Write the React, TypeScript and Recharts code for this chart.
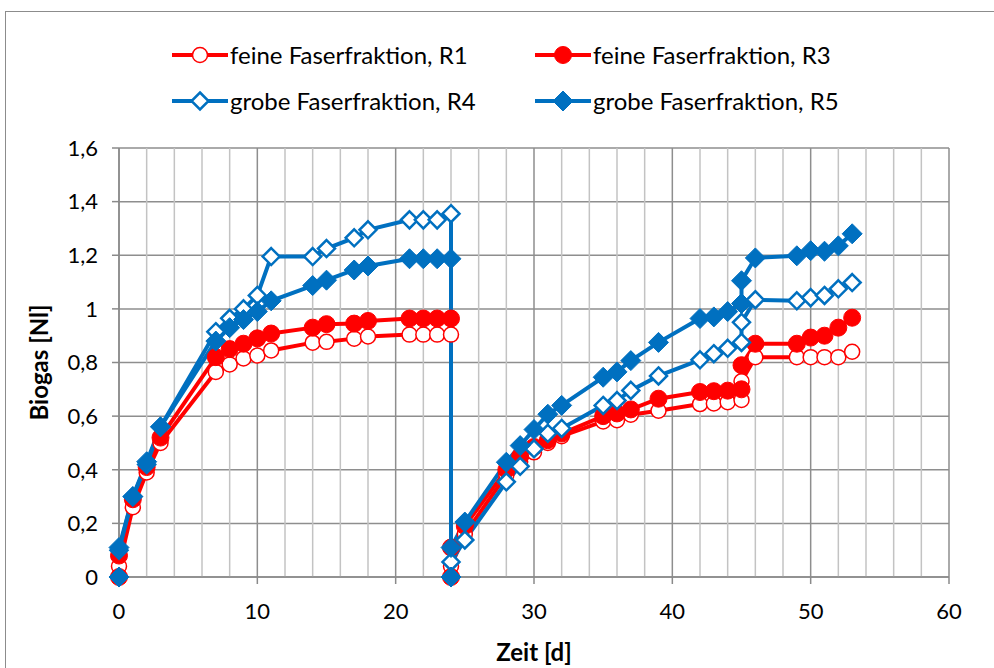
import React from 'react';
import { LineChart, Line, XAxis, YAxis, CartesianGrid, Label, ReferenceLine } from 'recharts';

// Sampling days (two feeding runs, reset at day 24)
const days = [
  0, 0, 1, 2, 3, 7, 8, 9, 10, 11, 14, 15, 17, 18, 21, 22, 23, 24,
  24, 24, 25, 28, 29, 30, 31, 32, 35, 36, 37, 39, 42, 43, 44, 45, 45, 46, 49, 50, 51, 52, 53,
];

// Cumulative biogas [Nl]
const gasR1 = [
  0, 0.04, 0.26, 0.39, 0.5, 0.765, 0.793, 0.815, 0.826, 0.845, 0.874, 0.877, 0.889, 0.897, 0.904, 0.904, 0.904, 0.904,
  0, 0.04, 0.16, 0.38, 0.43, 0.465, 0.5, 0.525, 0.58, 0.585, 0.605, 0.62, 0.645, 0.647, 0.652, 0.66, 0.73, 0.82, 0.82, 0.82, 0.82, 0.82, 0.84,
];
const gasR3 = [
  0, 0.08, 0.29, 0.41, 0.52, 0.82, 0.85, 0.87, 0.89, 0.908, 0.93, 0.943, 0.945, 0.955, 0.964, 0.964, 0.964, 0.964,
  0, 0.11, 0.19, 0.4, 0.45, 0.485, 0.51, 0.535, 0.6, 0.61, 0.625, 0.665, 0.69, 0.693, 0.695, 0.7, 0.79, 0.87, 0.87, 0.893, 0.9, 0.93, 0.967,
];
const gasR4 = [
  0, 0.1, 0.3, 0.42, 0.56, 0.915, 0.965, 1.0, 1.05, 1.195, 1.195, 1.225, 1.265, 1.295, 1.332, 1.332, 1.332, 1.355,
  0, 0.056, 0.138, 0.355, 0.413, 0.478, 0.536, 0.554, 0.64, 0.658, 0.696, 0.75, 0.81, 0.833, 0.853, 0.875, 0.95, 1.034, 1.03, 1.042, 1.05, 1.075, 1.098,
];
const gasR5 = [
  0, 0.11, 0.3, 0.43, 0.56, 0.88, 0.93, 0.96, 0.99, 1.03, 1.087, 1.107, 1.145, 1.16, 1.187, 1.187, 1.187, 1.187,
  0, 0.11, 0.205, 0.428, 0.49, 0.55, 0.607, 0.64, 0.745, 0.765, 0.807, 0.875, 0.964, 0.97, 0.99, 1.02, 1.105, 1.19, 1.198, 1.217, 1.215, 1.235, 1.28,
];

const xTicks = [0, 10, 20, 30, 40, 50, 60];
const xMinorTicks = [2, 4, 6, 8, 12, 14, 16, 18, 22, 24, 26, 28, 32, 34, 36, 38, 42, 44, 46, 48, 52, 54, 56, 58];
const yTicks = [0, 0.2, 0.4, 0.6, 0.8, 1, 1.2, 1.4, 1.6];

const RED = '#FF0000';
const BLUE = '#0070C0';
const FONT = "Lato, Roboto, sans-serif";

type Shape = 'circle' | 'diamond';

const series: { name: string; values: number[]; color: string; shape: Shape; open: boolean }[] = [
  { name: 'feine Faserfraktion, R1', values: gasR1, color: RED, shape: 'circle', open: true },
  { name: 'feine Faserfraktion, R3', values: gasR3, color: RED, shape: 'circle', open: false },
  { name: 'grobe Faserfraktion, R4', values: gasR4, color: BLUE, shape: 'diamond', open: true },
  { name: 'grobe Faserfraktion, R5', values: gasR5, color: BLUE, shape: 'diamond', open: false },
];

const toRows = (values: number[]) => days.map((d, i) => ({ day: d, gas: values[i] }));

const Marker = ({ cx, cy, shape, open, color }: { cx: number; cy: number; shape: Shape; open: boolean; color: string }) => {
  if (shape === 'circle') {
    return (
      <circle cx={cx} cy={cy} r={open ? 7.5 : 8.5} fill={open ? '#fff' : color} stroke={color} strokeWidth={open ? 1.5 : 1} />
    );
  }
  const h = open ? 8.5 : 10;
  return (
    <polygon
      points={`${cx},${cy - h} ${cx + h},${cy} ${cx},${cy + h} ${cx - h},${cy}`}
      fill={open ? '#fff' : color}
      stroke={color}
      strokeWidth={open ? 2.5 : 1}
    />
  );
};

const makeDot = (shape: Shape, open: boolean, color: string) => (props: any) => {
  const { cx, cy, index } = props;
  if (cx == null || cy == null) return <g key={index} />;
  return (
    <g key={index}>
      <Marker cx={cx} cy={cy} shape={shape} open={open} color={color} />
    </g>
  );
};

// legend: 2 x 2 grid above the plot
const LegendBlock = () => {
  const cols = [172, 535];
  const rows = [55, 101];
  return (
    <svg width={994} height={130} style={{ position: 'absolute', left: 0, top: 0 }}>
      {series.map((s, i) => {
        const x = cols[i % 2];
        const y = rows[Math.floor(i / 2)];
        return (
          <g key={s.name}>
            <line x1={x} y1={y} x2={x + 56} y2={y} stroke={s.color} strokeWidth={4} />
            <Marker cx={x + 28} cy={y} shape={s.shape} open={s.open} color={s.color} />
            <text x={x + 58} y={y} dy="0.36em" fontFamily={FONT} fontSize={24} fill="#000">
              {s.name}
            </text>
          </g>
        );
      })}
    </svg>
  );
};

const fmt = (v: number) => String(v).replace('.', ',');

export default function App() {
  return (
    <div style={{ position: 'absolute', left: 0, top: 0, width: 994, height: 668, overflow: 'hidden', background: '#fff' }}>
      <div
        style={{
          position: 'absolute',
          left: 5,
          top: 11,
          width: 1100,
          height: 800,
          border: '1.5px solid #8C8C8C',
        }}
      />
      <LineChart
        width={994}
        height={668}
        margin={{ top: 148, right: 45, bottom: 0, left: 0 }}
        style={{ position: 'absolute', left: 0, top: 0 }}
      >
        {/* light minor verticals every 2 days */}
        {xMinorTicks.map((t) => (
          <ReferenceLine key={`minor-${t}`} x={t} stroke="#C3C3C3" strokeWidth={1.5} />
        ))}
        <CartesianGrid stroke="#8E8E8E" strokeWidth={1.5} />
        <XAxis
          type="number"
          dataKey="day"
          domain={[0, 60]}
          ticks={xTicks}
          height={91}
          tickSize={7}
          tickMargin={19}
          stroke="#8A8A8A"
          strokeWidth={1.5}
          tick={{ fill: '#000', fontSize: 22, fontFamily: FONT }}
          allowDuplicatedCategory
        >
          <Label value="Zeit [d]" position="insideBottom" offset={7} fill="#000" fontSize={24} fontWeight="bold" fontFamily={FONT} />
        </XAxis>
        <YAxis
          type="number"
          domain={[0, 1.6]}
          ticks={yTicks}
          width={119}
          tickSize={7}
          tickMargin={14}
          tickFormatter={fmt}
          stroke="#8A8A8A"
          strokeWidth={1.5}
          tick={{ fill: '#000', fontSize: 22, fontFamily: FONT }}
        >
          <Label value="Biogas [Nl]" angle={-90} position="center" dx={-20} fill="#000" fontSize={24} fontWeight="bold" fontFamily={FONT} />
        </YAxis>
        {series.map((s) => (
          <Line
            key={s.name}
            data={toRows(s.values)}
            dataKey="gas"
            name={s.name}
            type="linear"
            stroke={s.color}
            strokeWidth={4}
            dot={makeDot(s.shape, s.open, s.color)}
            activeDot={false}
            isAnimationActive={false}
          />
        ))}
      </LineChart>
      <LegendBlock />
    </div>
  );
}
